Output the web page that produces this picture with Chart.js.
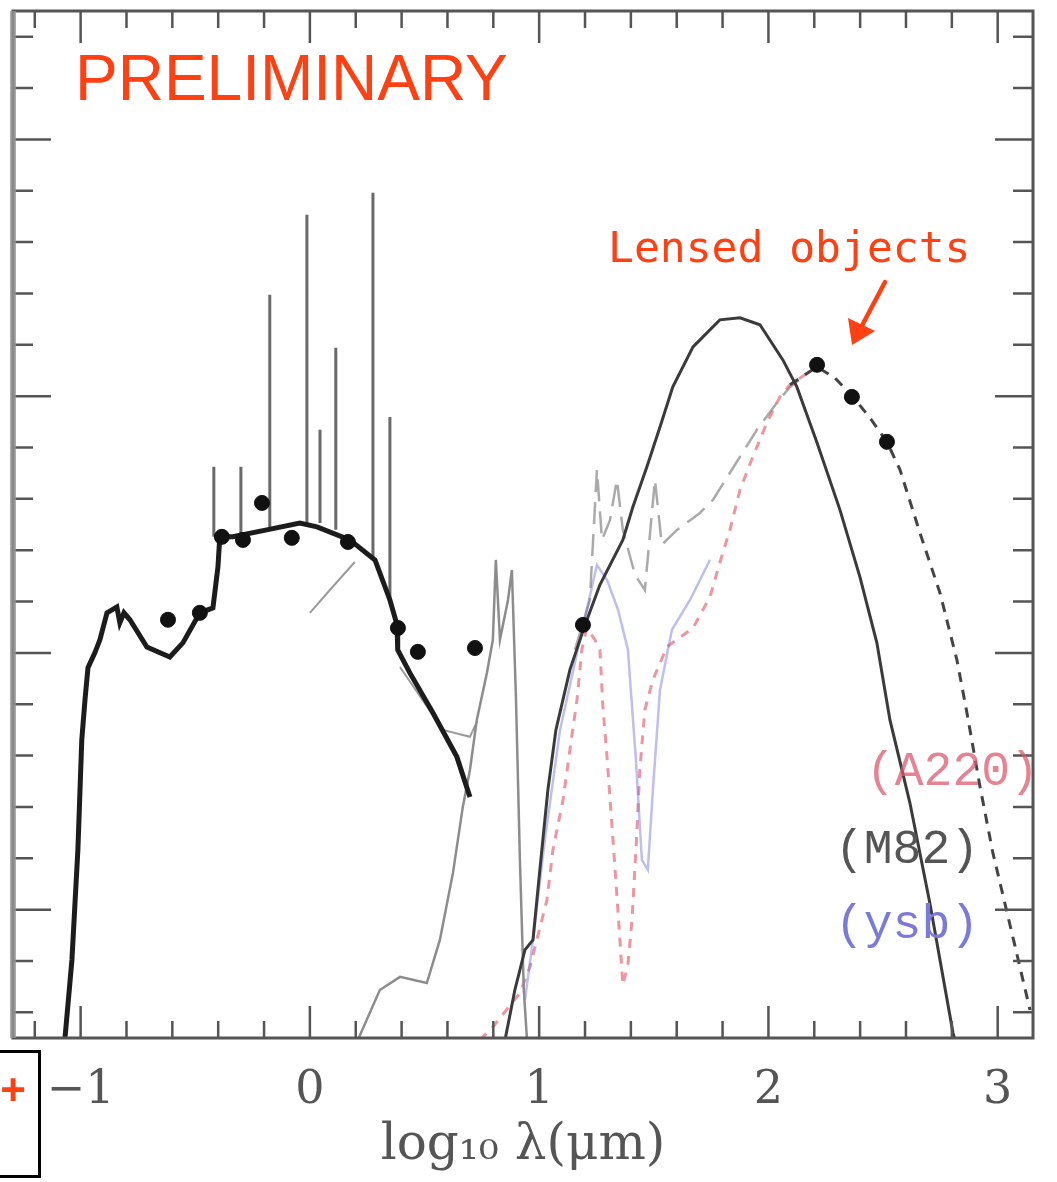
<!DOCTYPE html>
<html>
<head>
<meta charset="utf-8">
<script src="https://cdn.jsdelivr.net/npm/chart.js@4.4.1/dist/chart.umd.min.js"></script>
<style>
  body { margin: 0; background: #fff; }
  #wrap { position: relative; width: 1057px; height: 1182px; overflow: hidden; }
  .note { position: absolute; white-space: pre; line-height: 1; }
  #prelim { left: 75px; top: 41px; font: 64px "Liberation Sans", Arial, sans-serif; color: #ff4013; }
  #lensed { left: 608px; top: 222px; font: 43px "DejaVu Sans Mono", monospace; color: #ff4013; }
  .tag { font: 48px "Liberation Mono", "Courier New", monospace; }
  #tagA { left: 866px; top: 745px; color: rgba(220, 90, 110, 0.75); }
  #tagM { left: 835px; top: 823px; color: #555; }
  #tagY { left: 835px; top: 898px; color: #7a7ad8; }
  #plusbox { position: absolute; left: -3px; top: 1050px; width: 38px; height: 122px; border: 3px solid #000; }
  #plus { left: 0; top: 1065px; width: 26px; text-align: center; font: bold 44px "Liberation Sans", Arial, sans-serif; color: #ff4013; }
</style>
</head>
<body>
<div id="wrap">
  <canvas id="sed"></canvas>
  <div class="note" id="prelim">PRELIMINARY</div>
  <div class="note" id="lensed">Lensed objects</div>
  <div class="note tag" id="tagA">(A220)</div>
  <div class="note tag" id="tagM">(M82)</div>
  <div class="note tag" id="tagY">(ysb)</div>
  <div id="plusbox"></div>
  <div class="note" id="plus">+</div>
</div>
<script>
// log10 wavelength (um) on x, log flux (arbitrary) on y

// photometry
const photX = [-0.619, -0.480, -0.384, -0.292, -0.209, -0.079, 0.166, 0.384, 0.471, 0.720, 1.191, 2.212, 2.364, 2.517];
const photY = [0.129, 0.156, 0.452, 0.440, 0.584, 0.448, 0.432, 0.097, 0.004, 0.019, 0.109, 1.122, 0.997, 0.822];

// stellar spectrum (thick)
const starX = [-1.069, -1.038, -1.012, -0.995, -0.981, -0.968, -0.938, -0.916, -0.885, -0.842, -0.829, -0.811, -0.785, -0.711, -0.611, -0.554, -0.480, -0.423, -0.401, -0.393, -0.336, -0.188, -0.044, 0.031, 0.174, 0.284, 0.349, 0.380, 0.383, 0.436, 0.537, 0.641, 0.698];
const starY = [-1.508, -1.196, -0.767, -0.339, -0.183, -0.058, 0.000, 0.051, 0.156, 0.179, 0.117, 0.156, 0.129, 0.023, -0.016, 0.039, 0.156, 0.175, 0.335, 0.452, 0.452, 0.479, 0.506, 0.491, 0.440, 0.362, 0.206, 0.109, 0.012, -0.078, -0.234, -0.405, -0.561];

// emission lines: position, continuum, peak
const lineX = [-0.419, -0.301, -0.175, -0.013, 0.044, 0.113, 0.275, 0.349];
const lineBase = [0.452, 0.460, 0.479, 0.506, 0.506, 0.480, 0.362, 0.206];
const lineTop = [0.725, 0.725, 1.395, 1.706, 0.869, 1.188, 1.792, 0.919];

// warm dust template (thin grey)
const warmX = [0.209, 0.305, 0.393, 0.510, 0.567, 0.624, 0.667, 0.698, 0.728, 0.772, 0.798, 0.811, 0.829, 0.864, 0.881, 0.899, 0.916, 0.933, 0.947];
const warmY = [-1.508, -1.313, -1.262, -1.286, -1.118, -0.857, -0.600, -0.456, -0.261, -0.078, 0.051, 0.362, 0.051, 0.206, 0.323, -0.183, -0.806, -1.313, -1.508];

// underlying continuum pieces (null = break)
const contX = [0.000, 0.087, 0.196, 0.30, 0.393, 0.580, 0.698, 0.728];
const contY = [0.156, 0.245, 0.354, null, -0.055, -0.300, -0.327, -0.269];

// M82 model (solid)
const m82X = [0.851, 0.894, 0.938, 0.973, 1.003, 1.038, 1.073, 1.134, 1.200, 1.265, 1.365, 1.409, 1.470, 1.527, 1.583, 1.671, 1.788, 1.876, 1.963, 2.063, 2.124, 2.212, 2.312, 2.399, 2.473, 2.530, 2.617, 2.704, 2.805, 2.814];
const m82Y = [-1.508, -1.313, -1.157, -1.118, -0.845, -0.534, -0.300, -0.066, 0.109, 0.265, 0.440, 0.569, 0.725, 0.880, 1.036, 1.192, 1.297, 1.305, 1.278, 1.141, 1.036, 0.818, 0.557, 0.296, 0.039, -0.261, -0.584, -0.974, -1.480, -1.508];

// cold dust fit through the submm points (dark dashed)
const fitX = [2.094, 2.212, 2.290, 2.369, 2.443, 2.517, 2.574, 2.661, 2.748, 2.822, 2.866, 2.923, 2.979, 3.066, 3.141];
const fitY = [1.044, 1.114, 1.071, 0.997, 0.915, 0.822, 0.713, 0.467, 0.234, -0.027, -0.234, -0.522, -0.779, -1.106, -1.391];

// Arp 220 model (pink dashed)
const a220X = [0.742, 0.798, 0.916, 0.960, 1.034, 1.060, 1.104, 1.134, 1.165, 1.186, 1.208, 1.243, 1.265, 1.278, 1.296, 1.322, 1.348, 1.365, 1.387, 1.405, 1.426, 1.439, 1.461, 1.496, 1.557, 1.671, 1.745, 1.788, 1.832, 1.876, 1.932, 1.993, 2.050, 2.094, 2.159, 2.212];
const a220Y = [-1.508, -1.457, -1.325, -1.223, -0.962, -0.767, -0.573, -0.378, -0.183, 0.012, 0.097, 0.051, 0.012, -0.210, -0.405, -0.728, -1.060, -1.293, -1.215, -1.040, -0.701, -0.456, -0.222, -0.105, 0.023, 0.097, 0.218, 0.351, 0.479, 0.635, 0.764, 0.896, 0.997, 1.044, 1.083, 1.114];

// PAH template (grey long dash)
const pahX = [1.156, 1.221, 1.252, 1.274, 1.309, 1.339, 1.365, 1.418, 1.461, 1.505, 1.535, 1.601, 1.701, 1.758, 1.876, 1.950, 2.037, 2.094, 2.159];
const pahY = [0.012, 0.206, 0.713, 0.440, 0.518, 0.674, 0.479, 0.304, 0.245, 0.674, 0.421, 0.479, 0.545, 0.596, 0.764, 0.869, 0.974, 1.036, 1.079];

// young starburst model (blue)
const ysbX = [0.938, 0.973, 1.025, 1.091, 1.178, 1.252, 1.296, 1.344, 1.387, 1.422, 1.448, 1.474, 1.496, 1.527, 1.579, 1.658, 1.745];
const ysbY = [-1.352, -1.118, -0.728, -0.300, 0.051, 0.343, 0.284, 0.168, 0.012, -0.417, -0.806, -0.845, -0.534, -0.144, 0.090, 0.206, 0.362];

const xTicks = [-1, 0, 1, 2, 3];

const pts = (xs, ys) => xs.map((x, i) => ({ x: x, y: ys[i] }));

const spikePts = [];
lineX.forEach((x, i) => {
  spikePts.push({ x: x, y: lineBase[i] }, { x: x, y: lineTop[i] }, { x: x, y: null });
});

const line = (data, color, width, dash) => ({
  data: data,
  showLine: true,
  borderColor: color,
  borderWidth: width,
  borderDash: dash || [],
  pointRadius: 0,
  spanGaps: false,
  tension: 0
});

// frame with inward ticks on all four sides
const framePlugin = {
  id: "frame",
  afterDatasetsDraw(chart) {
    const { ctx, chartArea: a, scales } = chart;
    ctx.save();
    ctx.strokeStyle = "#555";
    ctx.lineWidth = 2.5;
    for (let v = -1.2; v <= 3.1; v += 0.2) {
      const px = scales.x.getPixelForValue(v);
      const major = Math.abs(v - Math.round(v)) < 1e-6;
      const len = major ? 32 : 17;
      ctx.beginPath();
      ctx.moveTo(px, a.bottom); ctx.lineTo(px, a.bottom - len);
      ctx.moveTo(px, a.top); ctx.lineTo(px, a.top + len);
      ctx.stroke();
    }
    for (let v = -1.4; v <= 2.45; v += 0.2) {
      const py = scales.y.getPixelForValue(v);
      const major = Math.abs(v - Math.round(v)) < 1e-6;
      const len = major ? 38 : 20;
      ctx.beginPath();
      ctx.moveTo(a.left, py); ctx.lineTo(a.left + len, py);
      ctx.moveTo(a.right, py); ctx.lineTo(a.right - len, py);
      ctx.stroke();
    }
    ctx.lineWidth = 3;
    ctx.strokeRect(a.left, a.top, a.right - a.left, a.bottom - a.top);
    ctx.strokeStyle = "rgba(150,150,150,0.8)";
    ctx.lineWidth = 6;
    ctx.beginPath();
    ctx.moveTo(a.left, a.top); ctx.lineTo(a.left, a.bottom);
    ctx.stroke();

    // arrow pointing at the lensed sources
    ctx.strokeStyle = "#ff4013";
    ctx.fillStyle = "#ff4013";
    ctx.lineWidth = 4.5;
    ctx.lineCap = "round";
    ctx.beginPath();
    ctx.moveTo(885, 282); ctx.lineTo(857, 335);
    ctx.stroke();
    ctx.beginPath();
    ctx.moveTo(852, 345); ctx.lineTo(848, 318); ctx.lineTo(875, 331);
    ctx.closePath();
    ctx.fill();
    ctx.restore();
  }
};

new Chart(document.getElementById("sed"), {
  type: "scatter",
  data: {
    datasets: [
      { data: pts(photX, photY), backgroundColor: "#111", borderColor: "#111", pointRadius: 7.5, showLine: false },
      line(pts(starX, starY), "#1c1c1c", 5),
      line(spikePts, "#6a6a6a", 3),
      line(pts(m82X, m82Y), "#3a3a3a", 3),
      line(pts(fitX, fitY), "#444", 3, [10, 8]),
      line(pts(warmX, warmY), "#8c8c8c", 2.5),
      line(pts(contX, contY), "#9a9a9a", 2),
      line(pts(ysbX, ysbY), "rgba(110,110,220,0.45)", 2.5),
      line(pts(a220X, a220Y), "rgba(225,80,100,0.6)", 3, [9, 8]),
      line(pts(pahX, pahY), "#aaa", 2.5, [22, 10])
    ]
  },
  options: {
    responsive: true,
    maintainAspectRatio: false,
    animation: false,
    layout: { padding: { left: 13, right: 24, top: 11, bottom: 0 } },
    scales: {
      x: {
        type: "linear",
        min: -1.295,
        max: 3.154,
        grid: { display: false, drawTicks: false },
        border: { display: false },
        afterBuildTicks: scale => { scale.ticks = xTicks.map(v => ({ value: v })); },
        ticks: {
          padding: 30,
          color: "#555",
          font: { family: "'DejaVu Serif', serif", size: 46, lineHeight: 1 },
          callback: v => (v < 0 ? "\u2212" + Math.abs(v) : String(v))
        },
        title: {
          display: true,
          text: "log\u2081\u2080 \u03bb(\u03bcm)",
          color: "#555",
          font: { family: "'DejaVu Serif', serif", size: 50, lineHeight: 0.1 },
          padding: { top: 0, bottom: 33 }
        }
      },
      y: {
        type: "linear",
        min: -1.5,
        max: 2.5,
        display: false
      }
    },
    plugins: {
      legend: { display: false },
      tooltip: { enabled: false }
    }
  },
  plugins: [framePlugin]
});

document.getElementById("sed").parentNode.style.height = "1182px";
</script>
</body>
</html>
